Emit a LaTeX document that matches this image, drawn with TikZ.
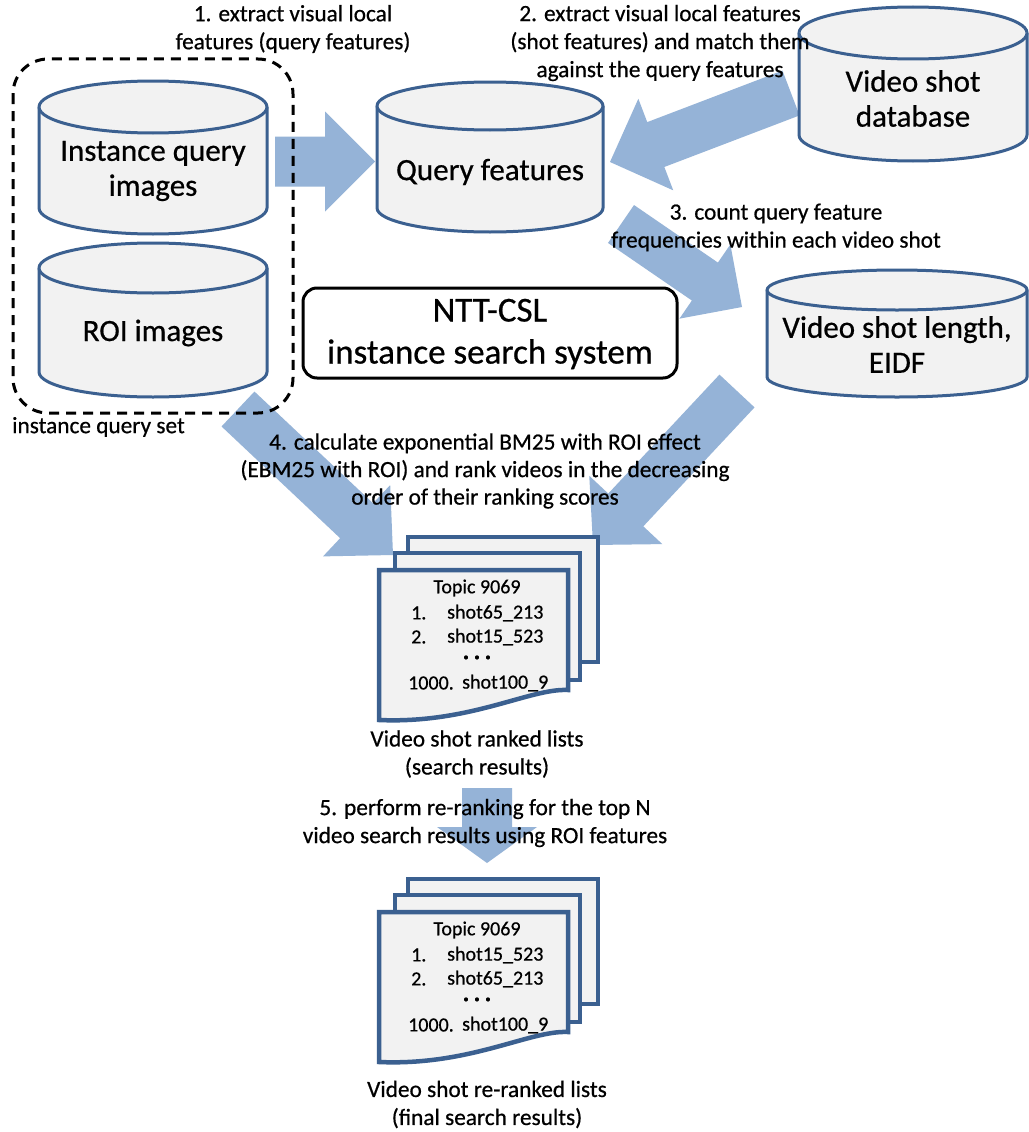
\documentclass[tikz,border=0pt]{standalone}
\usepackage{fontspec}
\setmainfont{Carlito}[FakeBold=0.6]
\usetikzlibrary{calc}
\definecolor{cylblue}{HTML}{3B6090}
\definecolor{cylfill}{HTML}{F2F2F2}
\definecolor{arrowblue}{HTML}{95B3D7}
\tikzset{
  cyl/.style={draw=cylblue, fill=cylfill, line width=3pt},
  docpage/.style={draw=cylblue, fill=cylfill, line width=4.5pt},
  bigarrow/.style={fill=arrowblue},
  lbl/.style={font=\fontsize{23.3}{28}\selectfont, align=center, inner sep=0pt},
  bigtxt/.style={font=\fontsize{31}{35}\selectfont, align=center, inner sep=0pt},
  ntttxt/.style={font=\fontsize{35}{42}\selectfont, align=center, inner sep=0pt},
  doctxt/.style={font=\fontsize{20}{24}\selectfont, inner sep=0pt},
  dottxt/.style={font=\fontsize{11}{11}\selectfont, inner sep=0pt},
}
\newcommand\blkarrow[5]{% tail, tip, shaft half width, head half width, head length
  \coordinate (#1-hb) at ($(#2)!#5!(#1)$);
  \fill[bigarrow] ($(#1)!#3!90:(#2)$) -- ($(#1-hb)!#3!90:(#2)$) -- ($(#1-hb)!#4!90:(#2)$) -- (#2)
     -- ($(#1-hb)!#4!-90:(#2)$) -- ($(#1-hb)!#3!-90:(#2)$) -- ($(#1)!#3!-90:(#2)$) -- cycle;
}
\newcommand\cylshape[5]{% x1, x2, ytop, ybot, ry
  \pgfmathsetmacro\cylrx{(#2-#1)/2}
  \filldraw[cyl] (#1,#3) -- (#1,#4) arc[start angle=180,end angle=360,x radius=\cylrx pt,y radius=#5pt]
     -- (#2,#3) arc[start angle=0,end angle=180,x radius=\cylrx pt,y radius=#5pt] -- cycle;
  \draw[cyl] (#1,#3) arc[start angle=180,end angle=360,x radius=\cylrx pt,y radius=#5pt];
}
\newcommand\docstack{%
  \filldraw[docpage] (408,537) rectangle (598,662);
  \filldraw[docpage] (395,553) rectangle (580,680);
  \filldraw[docpage] (379,570) -- (568,570) -- (568,690) .. controls (530,688) and (470,724) .. (379,720) -- cycle;
}
\begin{document}
\begin{tikzpicture}[x=1pt,y=-1pt]
\fill[white] (0,0) rectangle (1028,1132);
\useasboundingbox (0,0) rectangle (1028,1132);

% arrow end points
\coordinate (a1t) at (275,161.5); \coordinate (a1h) at (375,161.5);
\coordinate (a2t) at (791,93);    \coordinate (a2h) at (610,162);
\coordinate (a3t) at (621,224);   \coordinate (a3h) at (742,307);
\coordinate (a4lt) at (238,409);  \coordinate (a4lh) at (393,555);
\coordinate (a4rt) at (737,391);  \coordinate (a4rh) at (593,545);
\coordinate (a5t) at (487,788);   \coordinate (a5h) at (487,863);

% block arrows
\blkarrow{a1t}{a1h}{25pt}{50pt}{50pt}
\blkarrow{a2t}{a2h}{24pt}{49pt}{49pt}
\blkarrow{a3t}{a3h}{23pt}{45pt}{45pt}
\blkarrow{a4lt}{a4lh}{24pt}{49pt}{50pt}
\blkarrow{a4rt}{a4rh}{24pt}{50pt}{48pt}
\blkarrow{a5t}{a5h}{25pt}{50pt}{36pt}

% cylinders
\cylshape{39}{267}{107}{208}{26}
\cylshape{39}{267}{268}{372}{25}
\cylshape{377}{603}{106}{208}{24}
\cylshape{799}{1027}{33}{135}{26}
\cylshape{767}{1027}{290}{377}{20}

% system box
\draw[line width=3pt, rounded corners=14pt] (303,288) rectangle (677,378);

% document stacks
\docstack
\begin{scope}[shift={(0,342)}]
\docstack
\end{scope}

% dashed group
\draw[line width=3pt, dash pattern=on 10pt off 7pt, rounded corners=35pt] (13,59) rectangle (293,413);

% texts
\node[bigtxt] (iq) at (153,171) {Instance query\\images};
\node[bigtxt] (roi) at (153,333) {ROI images};
\node[bigtxt] (qf) at (490,172) {Query features};
\node[bigtxt] (vsd) at (913,98.5) {Video shot\\database};
\node[bigtxt] (vsl) at (897,344.5) {Video shot length,\\EIDF};
\node[ntttxt] (ntt) at (490,334) {NTT-CSL\\instance search system};

\node[lbl] (l1) at (293,29) {1. extract visual local\\features (query features)};
\node[lbl] (l2) at (660,43) {2. extract visual local features\\(shot features) and match them\\against the query features};
\node[lbl] (l3) at (776,227.5) {3. count query feature\\frequencies within each video shot};
\node[lbl, font=\fontsize{23.3}{27.5}\selectfont] (l4) at (485,471) {4. calculate exponential BM25 with ROI effect\\(EBM25 with ROI) and rank videos in the decreasing\\order of their ranking scores};
\node[lbl] (l5) at (485,823) {5. perform re-ranking for the top N\\video search results using ROI features};
\node[lbl, anchor=west] (iqs) at (12,427) {instance query set};

\node[lbl] (c1) at (477,754) {Video shot ranked lists\\(search results)};
\node[lbl] (c2) at (487,1104.5) {Video shot re-ranked lists\\(final search results)};

% document 1 contents
\node[doctxt] (d1t) at (477,588) {Topic 9069};
\node[doctxt, anchor=west] (d1n1) at (411,613) {1.};
\node[doctxt, anchor=west] (d1s1) at (447,613) {shot65\_213};
\node[doctxt, anchor=west] (d1n2) at (411,637) {2.};
\node[doctxt, anchor=west] (d1s2) at (447,637) {shot15\_523};
\node[dottxt] (d1d) at (477,658) {•\hspace{5.5pt}•\hspace{5.5pt}•};
\node[doctxt, anchor=west] (d1n3) at (408,683) {1000.};
\node[doctxt, anchor=west] (d1s3) at (462,683) {shot100\_9};

% document 2 contents
\node[doctxt] (d2t) at (477,930) {Topic 9069};
\node[doctxt, anchor=west] (d2n1) at (411,955) {1.};
\node[doctxt, anchor=west] (d2s1) at (447,955) {shot15\_523};
\node[doctxt, anchor=west] (d2n2) at (411,979) {2.};
\node[doctxt, anchor=west] (d2s2) at (447,979) {shot65\_213};
\node[dottxt] (d2d) at (477,1000) {•\hspace{5.5pt}•\hspace{5.5pt}•};
\node[doctxt, anchor=west] (d2n3) at (408,1025) {1000.};
\node[doctxt, anchor=west] (d2s3) at (462,1025) {shot100\_9};
\end{tikzpicture}
\end{document}
